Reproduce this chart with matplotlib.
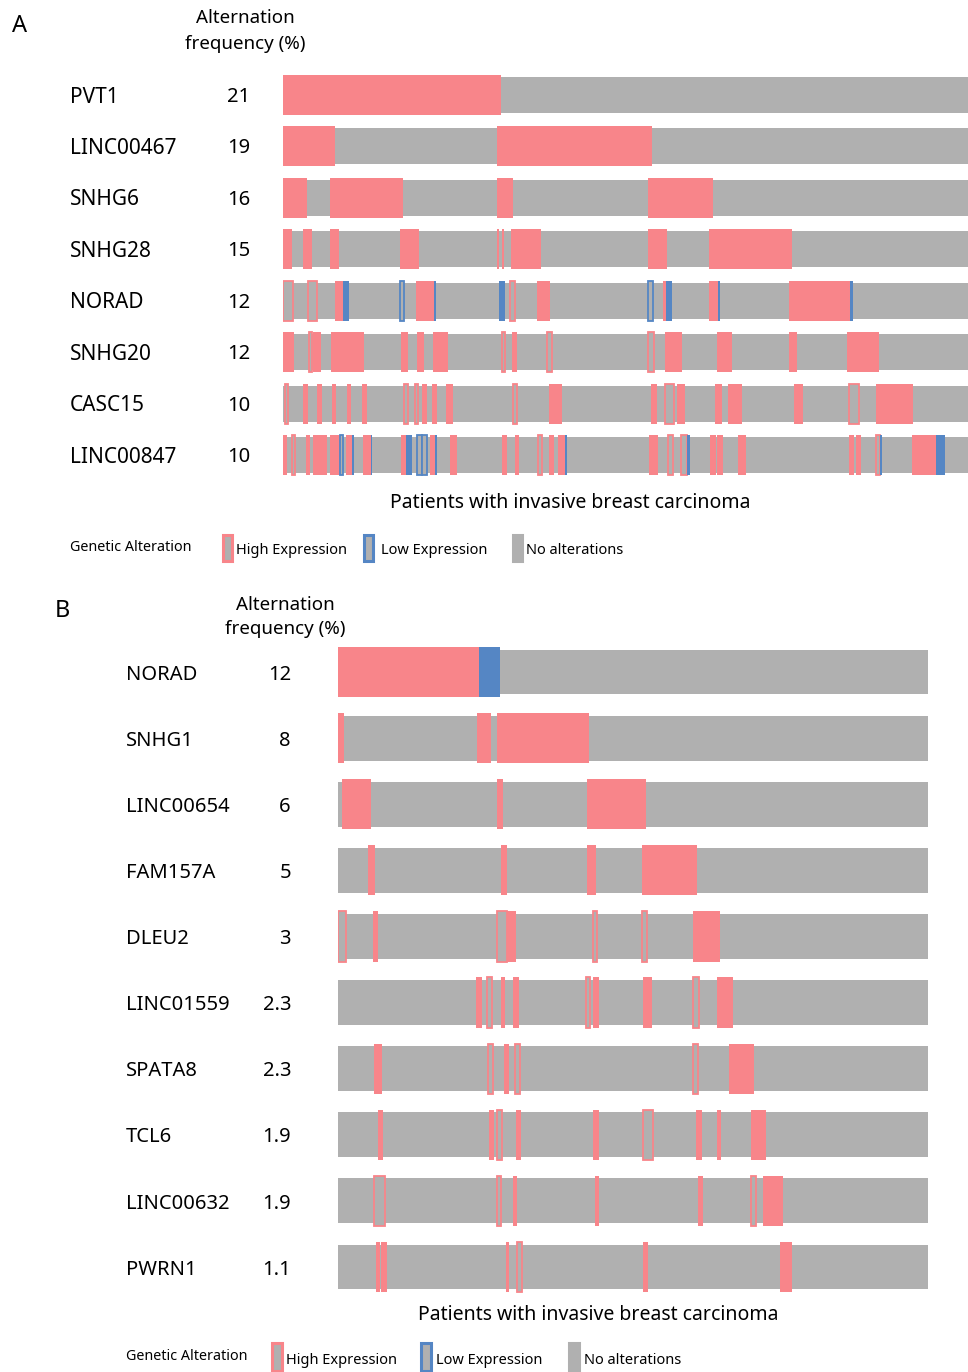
import matplotlib.pyplot as plt
from matplotlib.patches import Rectangle
import matplotlib.transforms as mtransforms

plt.rcParams['font.family'] = ['Noto Sans', 'DejaVu Sans']

W, H = 968, 1372
PINK = '#f8858a'
BLUE = '#5586c4'
GRAY = '#b0b0b0'

# panel A: genes, alteration frequency and altered-patient blocks
# blocks are (start, end, kind) along the patient axis
# kind: H high, L low, lower case = thin outlined block
genes_a = ['PVT1', 'LINC00467', 'SNHG6', 'SNHG28', 'NORAD', 'SNHG20', 'CASC15', 'LINC00847']
freq_a = ['21', '19', '16', '15', '12', '12', '10', '10']
span_a = 685
alt_a = [
    [(0, 218, 'H')],
    [(0, 52, 'H'), (214, 369, 'H')],
    [(0, 24, 'H'), (47, 120, 'H'), (214, 230, 'H'), (365, 430, 'H')],
    [(0, 9, 'H'), (20, 29, 'H'), (47, 56, 'H'), (117, 136, 'H'), (214, 216, 'H'), (219, 221, 'H'),
     (228, 258, 'H'), (365, 384, 'H'), (426, 509, 'H')],
    [(0, 10, 'h'), (25, 34, 'h'), (52, 60, 'H'), (60, 66, 'L'), (117, 121, 'l'), (133, 151, 'H'),
     (151, 153, 'L'), (216, 222, 'L'), (227, 232, 'h'), (254, 267, 'H'), (365, 370, 'l'),
     (380, 383, 'H'), (383, 389, 'L'), (426, 435, 'H'), (435, 437, 'L'), (506, 567, 'H'), (567, 570, 'L')],
    [(0, 11, 'H'), (26, 29, 'h'), (30, 38, 'H'), (48, 81, 'H'), (118, 125, 'H'), (134, 141, 'H'),
     (150, 165, 'H'), (219, 222, 'h'), (229, 234, 'H'), (264, 269, 'h'), (365, 371, 'h'),
     (382, 399, 'H'), (434, 449, 'H'), (506, 514, 'H'), (564, 596, 'H')],
    [(2, 5, 'h'), (20, 25, 'H'), (34, 39, 'H'), (49, 53, 'H'), (64, 68, 'H'), (79, 84, 'H'),
     (121, 125, 'h'), (132, 135, 'h'), (139, 144, 'H'), (149, 154, 'H'), (163, 170, 'H'),
     (230, 234, 'h'), (266, 279, 'H'), (368, 374, 'H'), (382, 391, 'h'), (394, 402, 'H'),
     (432, 439, 'H'), (445, 459, 'H'), (511, 520, 'H'), (566, 576, 'h'), (593, 630, 'H')],
    [(0, 4, 'H'), (9, 12, 'h'), (23, 27, 'H'), (30, 44, 'H'), (47, 57, 'H'), (57, 60, 'l'),
     (63, 69, 'H'), (69, 71, 'L'), (80, 88, 'H'), (88, 89, 'L'), (118, 123, 'H'), (123, 129, 'L'),
     (134, 139, 'l'), (139, 144, 'l'), (147, 152, 'H'), (152, 154, 'L'), (167, 174, 'H'),
     (219, 224, 'H'), (232, 236, 'H'), (255, 259, 'h'), (266, 271, 'H'), (275, 282, 'H'),
     (282, 284, 'L'), (366, 375, 'H'), (385, 390, 'h'), (398, 404, 'h'), (404, 407, 'L'),
     (427, 433, 'H'), (434, 440, 'H'), (455, 463, 'H'), (566, 571, 'H'), (573, 578, 'H'),
     (593, 597, 'h'), (597, 599, 'L'), (629, 653, 'H'), (653, 662, 'L')],
]

# panel B
genes_b = ['NORAD', 'SNHG1', 'LINC00654', 'FAM157A', 'DLEU2', 'LINC01559', 'SPATA8', 'TCL6',
           'LINC00632', 'PWRN1']
freq_b = ['12', '8', '6', '5', '3', '2.3', '2.3', '1.9', '1.9', '1.1']
span_b = 590
alt_b = [
    [(0, 141, 'H'), (141, 162, 'L')],
    [(0, 6, 'H'), (139, 153, 'H'), (159, 251, 'H')],
    [(4, 33, 'H'), (159, 165, 'H'), (249, 308, 'H')],
    [(30, 37, 'H'), (163, 169, 'H'), (249, 258, 'H'), (304, 359, 'H')],
    [(0, 8, 'h'), (35, 40, 'H'), (159, 169, 'h'), (169, 178, 'H'), (255, 259, 'h'), (304, 309, 'h'),
     (355, 382, 'H')],
    [(138, 144, 'H'), (149, 154, 'h'), (163, 167, 'H'), (175, 181, 'H'), (248, 252, 'h'),
     (255, 261, 'H'), (305, 314, 'H'), (355, 361, 'h'), (379, 395, 'H')],
    [(36, 44, 'H'), (150, 155, 'h'), (166, 171, 'H'), (177, 182, 'h'), (355, 360, 'h'), (391, 416, 'H')],
    [(40, 45, 'H'), (151, 156, 'H'), (159, 164, 'h'), (178, 183, 'H'), (255, 261, 'H'),
     (305, 315, 'h'), (358, 364, 'H'), (379, 383, 'H'), (413, 428, 'H')],
    [(36, 47, 'h'), (159, 163, 'h'), (175, 179, 'H'), (257, 261, 'H'), (360, 365, 'H'),
     (413, 418, 'h'), (425, 445, 'H')],
    [(38, 42, 'H'), (43, 49, 'H'), (168, 171, 'H'), (179, 184, 'h'), (305, 310, 'H'), (442, 454, 'H')],
]


def fx(x):
    return x / W


def fy(y):
    return 1 - y / H


def oncoprint(ax, alts, span, gray_h, alt_h):
    for i, segs in enumerate(alts):
        ax.barh(i, span, left=0, height=gray_h, color=GRAY, linewidth=0)
        for s, e, k in segs:
            col = PINK if k.upper() == 'H' else BLUE
            if k.isupper():
                ax.barh(i, e - s, left=s, height=alt_h, color=col, linewidth=0)
            else:
                ax.barh(i, e - s, left=s, height=alt_h, color=GRAY,
                        edgecolor=col, linewidth=1.3)
    ax.set_xlim(0, span)
    ax.set_ylim(len(alts) - 0.5, -0.5)
    ax.axis('off')


def legend_row(fig, x0, y, glyph_x, glyph_w, glyph_h, text_x):
    fig.text(fx(x0), fy(y), 'Genetic Alteration', fontsize=10.3, va='center', ha='left')
    labels = ['High Expression', 'Low Expression', 'No alterations']
    edges = [PINK, BLUE, GRAY]
    for gx, tx, lab, ec in zip(glyph_x, text_x, labels, edges):
        fig.add_artist(Rectangle((fx(gx), fy(y + glyph_h / 2)), glyph_w / W, glyph_h / H,
                                 transform=fig.transFigure, facecolor=GRAY,
                                 edgecolor=ec, linewidth=2.2))
        fig.text(fx(tx), fy(y + 3), lab, fontsize=10.5, va='center', ha='left')


fig = plt.figure(figsize=(W / 100, H / 100), dpi=100)

# ---- panel A
rowA = 51.43
topA, botA = 95 - rowA / 2, 455 + rowA / 2
axA = fig.add_axes([fx(283), fy(botA), (968 - 283) / W, (botA - topA) / H])
oncoprint(axA, alt_a, span_a, 0.70, 0.78)
trA = mtransforms.blended_transform_factory(fig.transFigure, axA.transData)
for i, (g, f) in enumerate(zip(genes_a, freq_a)):
    axA.text(fx(70), i + 0.04, g, transform=trA, fontsize=15, va='center', ha='left')
    axA.text(fx(250), i + 0.04, f, transform=trA, fontsize=14.5, va='center', ha='right')

fig.text(fx(20), fy(26), 'A', fontsize=17, ha='center', va='center')
fig.text(fx(245), fy(31), 'Alternation\nfrequency (%)', fontsize=13.5, ha='center',
         va='center', linespacing=1.55)
fig.text(fx(570), fy(503), 'Patients with invasive breast carcinoma', fontsize=14,
         ha='center', va='center')
legend_row(fig, 70, 548, [223, 364, 513], 9, 26, [236, 381, 526])

# ---- panel B
rowB = 66.1
topB, botB = 672 - rowB / 2, 1267 + rowB / 2
axB = fig.add_axes([fx(338), fy(botB), (928 - 338) / W, (botB - topB) / H])
oncoprint(axB, alt_b, span_b, 0.68, 0.76)
trB = mtransforms.blended_transform_factory(fig.transFigure, axB.transData)
for i, (g, f) in enumerate(zip(genes_b, freq_b)):
    axB.text(fx(126), i + 0.04, g, transform=trB, fontsize=14.5, va='center', ha='left')
    axB.text(fx(291), i + 0.04, f, transform=trB, fontsize=14.5, va='center', ha='right')

fig.text(fx(62), fy(611), 'B', fontsize=17, ha='center', va='center')
fig.text(fx(285), fy(617), 'Alternation\nfrequency (%)', fontsize=13.5, ha='center',
         va='center', linespacing=1.45)
fig.text(fx(598), fy(1315), 'Patients with invasive breast carcinoma', fontsize=14,
         ha='center', va='center')
legend_row(fig, 126, 1357, [272, 421, 569], 10, 28, [286, 436, 584])

fig.savefig('out.png', dpi=100)
